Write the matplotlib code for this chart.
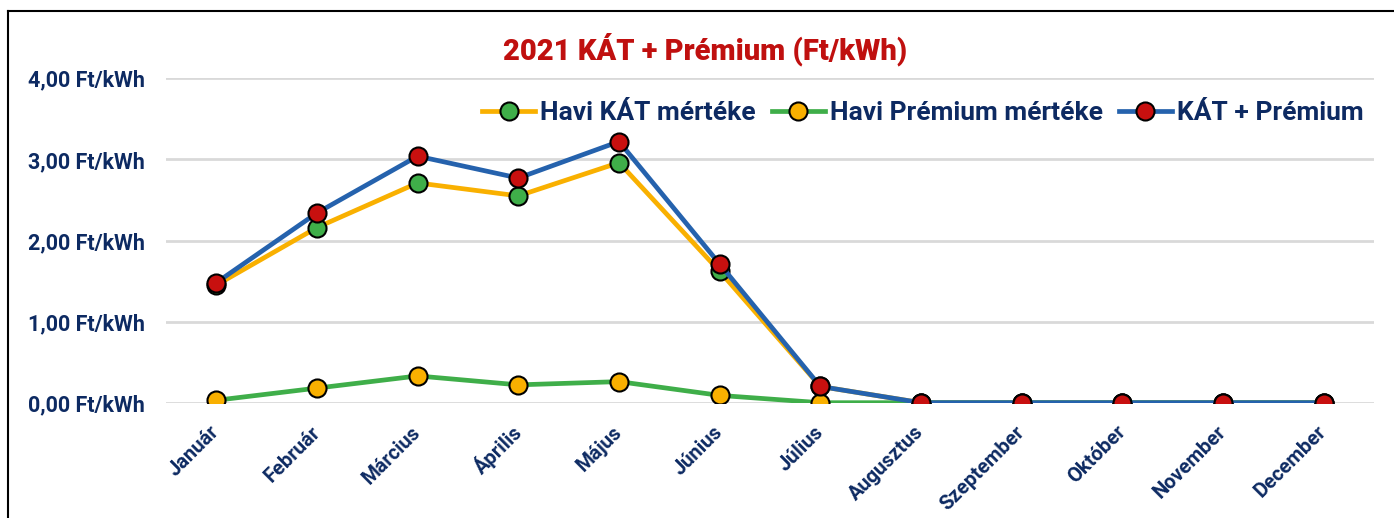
import numpy as np
import matplotlib.pyplot as plt
from matplotlib.lines import Line2D

# Data
honapok = ['Január', 'Február', 'Március', 'Április', 'Május', 'Június',
           'Július', 'Augusztus', 'Szeptember', 'Október', 'November', 'December']
kat = [1.45, 2.16, 2.71, 2.55, 2.96, 1.62, 0.20, 0, 0, 0, 0, 0]
premium = [0.03, 0.18, 0.33, 0.22, 0.26, 0.09, 0.00, 0, 0, 0, 0, 0]
kat_premium = [1.48, 2.34, 3.04, 2.77, 3.22, 1.71, 0.20, 0, 0, 0, 0, 0]
y_ticks = [0, 1, 2, 3, 4]

navy = '#0d2a62'
plt.rcParams['font.family'] = ['Roboto', 'DejaVu Sans']

fig = plt.figure(figsize=(13.94, 5.18), dpi=100)
ax = fig.add_axes([166 / 1394, 1 - 402.7 / 518, 1208 / 1394, 324.4 / 518])

x = np.arange(len(honapok))
ax.plot(x, kat, color='#f9b000', lw=3.4, marker='o', ms=13,
        mfc='#3fae49', mec='black', mew=1.5, label='Havi KÁT mértéke', zorder=3)
ax.plot(x, premium, color='#3fae49', lw=3.4, marker='o', ms=13,
        mfc='#f9b000', mec='black', mew=1.5, label='Havi Prémium mértéke', zorder=4)
ax.plot(x, kat_premium, color='#2562ad', lw=3.4, marker='o', ms=13,
        mfc='#c8100f', mec='black', mew=1.5, label='KÁT + Prémium', zorder=5)

ax.set_xlim(-0.5, len(honapok) - 0.5)
ax.set_ylim(0, 4)
ax.set_yticks(y_ticks)
ax.set_yticklabels([f'{v:.2f}'.replace('.', ',') + ' Ft/kWh' for v in y_ticks],
                   fontsize=15.5, fontweight='bold', color=navy)
ax.set_xticks(x)
ax.set_xticklabels(honapok, rotation=45, ha='right', va='center', rotation_mode='anchor',
                   fontsize=14.5, fontweight='bold', color=navy)
ax.tick_params(axis='both', length=0)
ax.tick_params(axis='y', pad=15)
ax.tick_params(axis='x', pad=19)
for s in ax.spines.values():
    s.set_visible(False)
ax.grid(axis='y', color='#d9d9d9', lw=2)
ax.set_axisbelow(True)
ax.patch.set_alpha(0)

leg = ax.legend(loc='center right', bbox_to_anchor=(1.0, 0.892), ncol=3, frameon=False,
                handlelength=2.0, handletextpad=0.2, columnspacing=0.6,
                prop={'size': 19, 'weight': 'bold'}, borderaxespad=0)
for t in leg.get_texts():
    t.set_color(navy)

fig.text(0.506, 0.905, '2021 KÁT + Prémium (Ft/kWh)', ha='center', va='center',
         fontsize=21, fontweight='heavy', color='#c0100f')

# frame lines like the original screenshot
fig.add_artist(Line2D([7.5 / 1394, 7.5 / 1394], [0, 1 - 11 / 518], color='black', lw=1.5))
fig.add_artist(Line2D([7.5 / 1394, 1], [1 - 11 / 518, 1 - 11 / 518], color='black', lw=1.5))

fig.savefig('out.png', dpi=100)
